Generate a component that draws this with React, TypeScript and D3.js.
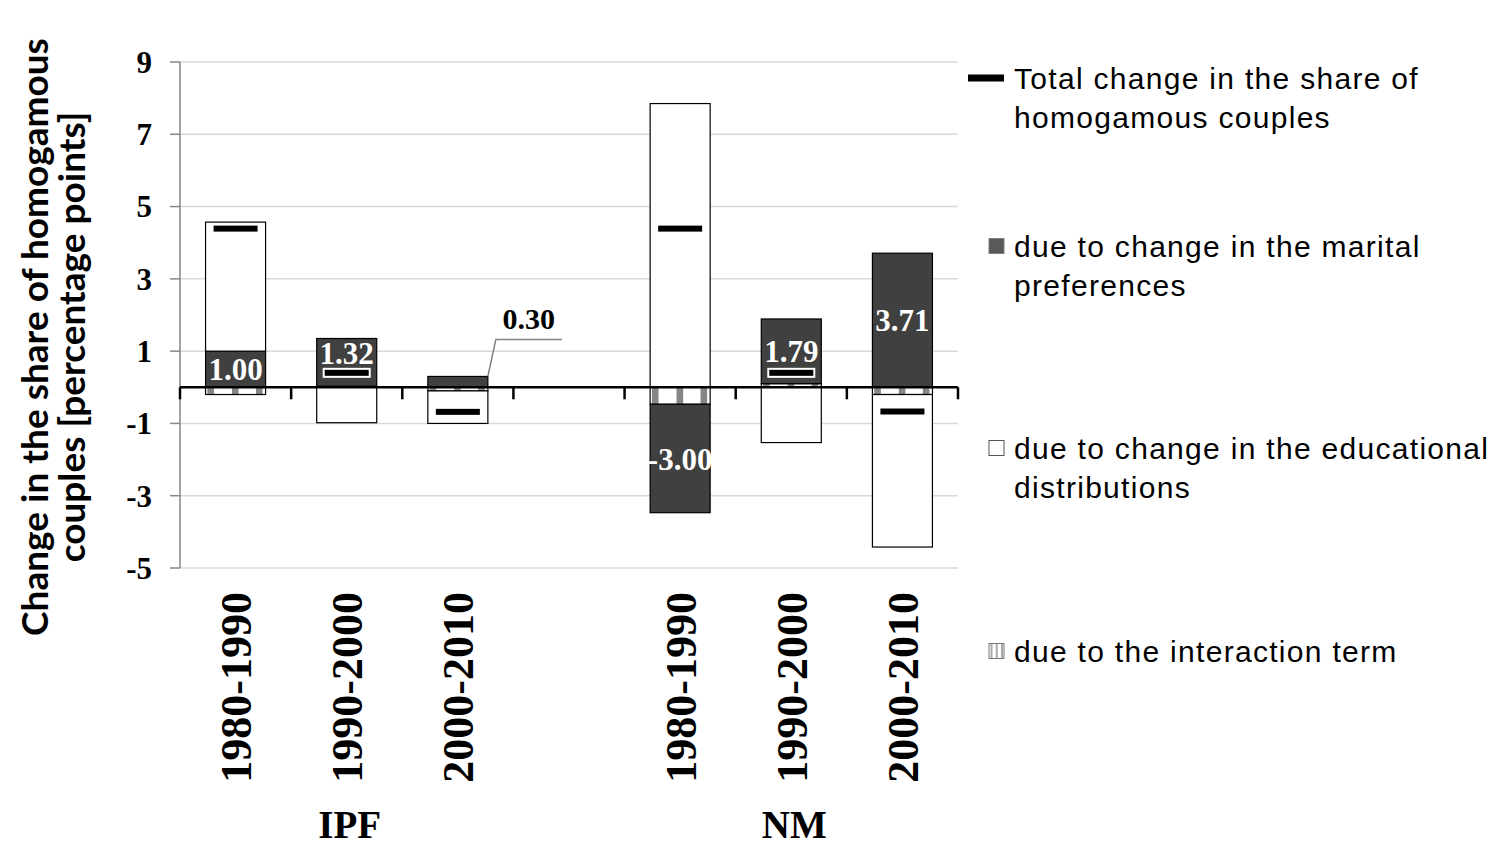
import * as d3 from 'd3';

// values (percentage points)
const groups = ['IPF', 'NM'];
const periods = ['1980-1990', '1990-2000', '2000-2010'];
const interaction = [-0.2, 0.03, -0.1, -0.47, 0.1, -0.2];
const marital = [1.0, 1.32, 0.3, -3.0, 1.79, 3.71];
const educational = [3.57, -0.98, -0.9, 7.85, -1.53, -4.22];
const total = [4.39, 0.4, -0.68, 4.39, 0.4, -0.67];
const yTicks = [-5, -3, -1, 1, 3, 5, 7, 9];

const legendItems = [
  { kind: 'total', lines: ['Total change in the share of', 'homogamous couples'] },
  { kind: 'marital', lines: ['due to change in the marital', 'preferences'] },
  { kind: 'educational', lines: ['due to change in the educational', 'distributions'] },
  { kind: 'interaction', lines: ['due to the interaction term'] },
];

const W = 1510;
const H = 858;
const serif = '"Liberation Serif", "Times New Roman", serif';
const sans = '"Liberation Sans", Arial, sans-serif';
const DARK = '#404040';
const STRIPE = '#858585';

type Row = { key: string; interaction: number; marital: number; educational: number; total: number; period: string; group: string };

const rows: Row[] = [];
groups.forEach((g, gi) =>
  periods.forEach((p, pi) => {
    const i = gi * periods.length + pi;
    rows.push({ key: `${g} ${p}`, period: p, group: g, interaction: interaction[i], marital: marital[i], educational: educational[i], total: total[i] });
  })
);
// empty slot between the two groups
const domain = [...rows.slice(0, 3).map((r) => r.key), 'gap', ...rows.slice(3).map((r) => r.key)];

const keys = ['interaction', 'marital', 'educational'] as const;

export default function App() {
  const x = d3.scaleBand<string>().domain(domain).range([180, 958]).paddingInner(0.46).paddingOuter(0.23);
  const y = d3.scaleLinear().domain([-5, 9]).range([568, 62]);
  const stacked = d3.stack<Row>().keys(keys as unknown as string[]).offset(d3.stackOffsetDiverging)(rows);
  const bw = x.bandwidth();
  const step = x.step();
  const y0 = y(0);
  const boundaries = d3.range(domain.length + 1).map((i) => 180 + i * step);

  const segs: JSX.Element[] = [];
  const labels: JSX.Element[] = [];
  stacked.forEach((layer) => {
    const k = layer.key;
    layer.forEach((d, i) => {
      const r = rows[i];
      const bx = x(r.key)!;
      const top = y(Math.max(d[0], d[1]));
      const bot = y(Math.min(d[0], d[1]));
      const h = bot - top;
      if (h < 0.3) return;
      if (k === 'interaction') {
        segs.push(
          <g key={`${k}${i}`}>
            <rect x={bx} y={top} width={bw} height={h} fill="#fff" />
            {[0.03, 0.44, 0.84].map((f, j) => (
              <rect key={j} x={bx + f * bw} y={top} width={bw * 0.11} height={h} fill={STRIPE} />
            ))}
            <rect x={bx} y={top} width={bw} height={h} fill="none" stroke="#000" strokeWidth={1.2} />
          </g>
        );
      } else {
        segs.push(
          <rect key={`${k}${i}`} x={bx} y={top} width={bw} height={h}
            fill={k === 'marital' ? DARK : '#fff'} stroke="#000" strokeWidth={1.2} />
        );
      }
      if (k === 'marital') {
        const txt = r.marital.toFixed(2);
        if (h < 22) {
          // small segment: label outside with a leader line
          const rx = bx + bw;
          labels.push(
            <g key={`l${i}`}>
              <path d={`M${rx},${top} L${rx + 8},${top - 37} L${rx + 74},${top - 37}`} fill="none" stroke="#808080" strokeWidth={1.5} />
              <text x={rx + 41} y={top - 47} textAnchor="middle" fontFamily={serif} fontWeight="bold" fontSize={30} fill="#000">{txt}</text>
            </g>
          );
        } else {
          let cy = (top + bot) / 2;
          const my = y(r.total);
          if (Math.abs(my - cy) < 20) cy -= 10;
          labels.push(
            <text key={`l${i}`} x={bx + bw / 2} y={cy} dy="0.36em" textAnchor="middle" fontFamily={serif} fontWeight="bold" fontSize={31} fill="#fff">{txt}</text>
          );
        }
      }
    });
  });

  return (
    <svg width={W} height={H} style={{ position: 'absolute', left: 0, top: 0, background: '#fff' }}>
      <rect width={W} height={H} fill="#fff" />
      {/* gridlines */}
      {yTicks.map((t) => (
        <line key={t} x1={180} x2={958} y1={y(t)} y2={y(t)} stroke="#d9d9d9" strokeWidth={1.5} />
      ))}
      {/* y axis */}
      <line x1={180} x2={180} y1={y(9)} y2={y(-5)} stroke="#868686" strokeWidth={1.5} />
      {yTicks.map((t) => (
        <g key={`t${t}`}>
          <line x1={170} x2={180} y1={y(t)} y2={y(t)} stroke="#868686" strokeWidth={1.5} />
          <text x={152} y={y(t)} dy="0.35em" textAnchor="end" fontFamily={serif} fontWeight="bold" fontSize={31}>{t}</text>
        </g>
      ))}

      {segs}

      {/* zero axis */}
      <line x1={180} x2={958} y1={y0} y2={y0} stroke="#000" strokeWidth={2.5} />
      {boundaries.map((b, i) => (
        <line key={`b${i}`} x1={b} x2={b} y1={y0} y2={y0 + 12} stroke="#000" strokeWidth={2.5} />
      ))}

      {/* total change markers */}
      {rows.map((r) => (
        <rect key={`m${r.key}`} x={x(r.key)! + bw / 2 - 23} y={y(r.total) - 4} width={46} height={8} fill="#000" stroke="#fff" strokeWidth={2} />
      ))}

      {labels}

      {/* category labels */}
      {rows.map((r) => {
        const cx = x(r.key)! + bw / 2;
        return (
          <text key={`c${r.key}`} transform={`translate(${cx},592) rotate(-90)`} dy="0.35em" textAnchor="end"
            fontFamily={serif} fontWeight="bold" fontSize={44}>{r.period}</text>
        );
      })}
      {groups.map((g) => (
        <text key={g} x={x(`${g} ${periods[1]}`)! + bw / 2 + 3} y={838} textAnchor="middle" fontFamily={serif} fontWeight="bold" fontSize={39}>{g}</text>
      ))}

      {/* y title */}
      <g transform="translate(0,337) rotate(-90)" fontFamily='Lato, "Open Sans", sans-serif' fontWeight="bold" fontSize={37} textAnchor="middle">
        <text x={0} y={35} dy="0.35em">Change in the share of homogamous</text>
        <text x={0} y={72} dy="0.35em">couples [percentage points]</text>
      </g>

      {/* legend */}
      {legendItems.map((it, i) => {
        const base = [89, 257, 459, 662][i];
        const cy = base - 11;
        return (
          <g key={it.kind} fontFamily={sans} fontSize={30} letterSpacing={1.3}>
            {it.kind === 'total' && <rect x={968} y={cy - 3.5} width={36} height={7} fill="#000" />}
            {it.kind === 'marital' && <rect x={989} y={cy - 7.5} width={15} height={15} fill="#595959" stroke="#7f7f7f" strokeWidth={1} />}
            {it.kind === 'educational' && <rect x={989} y={cy - 7.5} width={15} height={15} fill="#fff" stroke="#555" strokeWidth={1} />}
            {it.kind === 'interaction' && (
              <g>
                <rect x={989} y={cy - 7.5} width={15} height={15} fill="#fff" />
                {[0.1, 0.45, 0.8].map((f, j) => (
                  <rect key={j} x={989 + f * 15} y={cy - 7.5} width={2} height={15} fill="#aaa" />
                ))}
                <rect x={989} y={cy - 7.5} width={15} height={15} fill="none" stroke="#777" strokeWidth={1} />
              </g>
            )}
            {it.lines.map((ln, j) => (
              <text key={j} x={1014} y={base + j * 39}>{ln}</text>
            ))}
          </g>
        );
      })}
    </svg>
  );
}
